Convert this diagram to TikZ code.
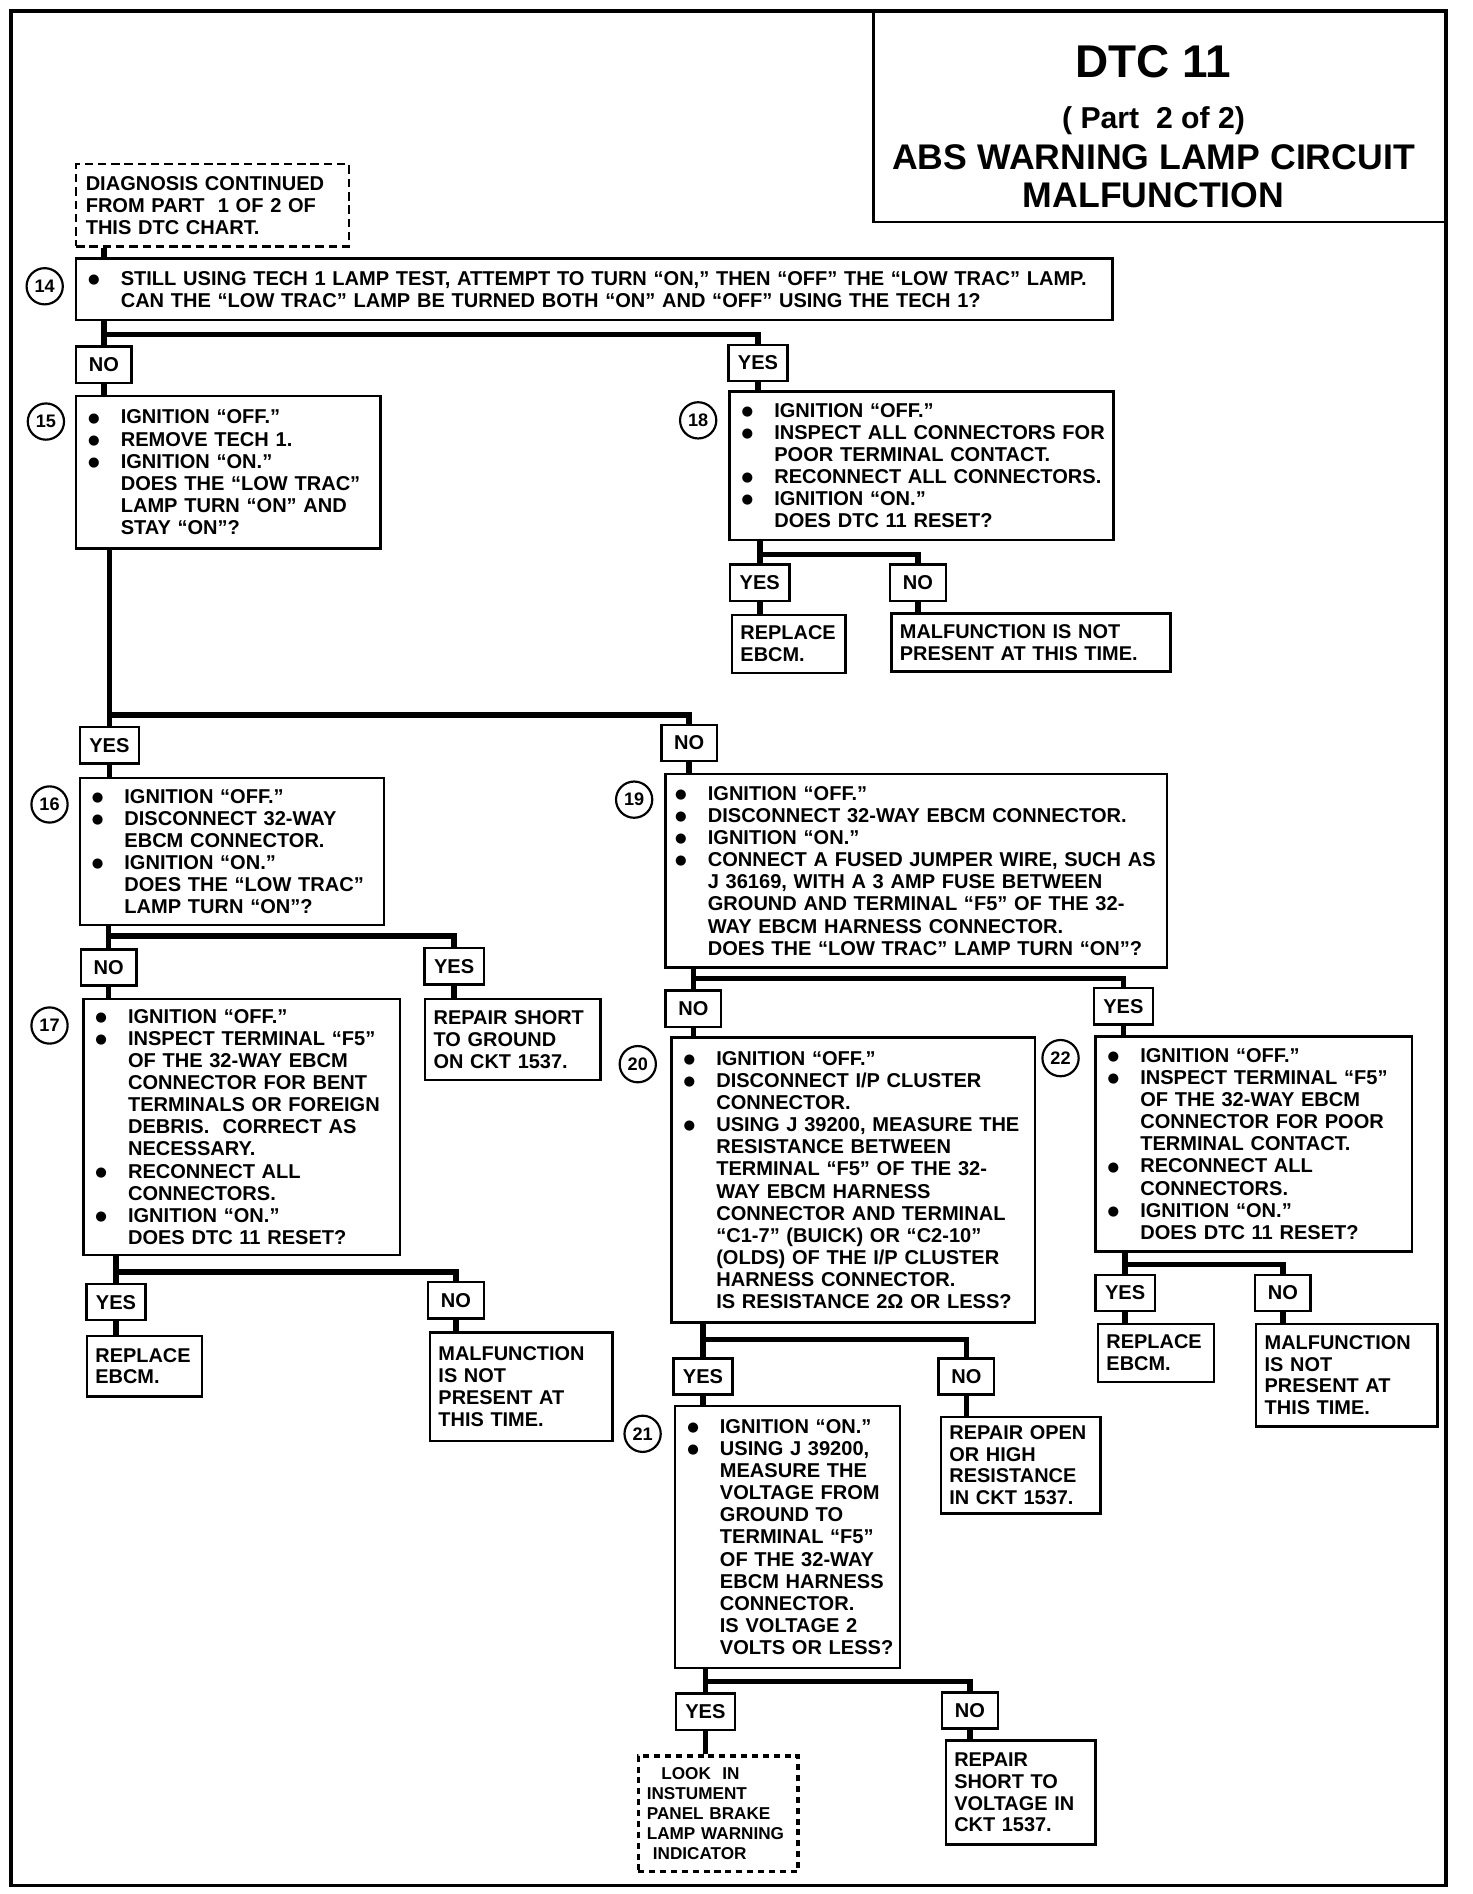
\documentclass[tikz,border=0pt]{standalone}
\usepackage{fontspec}
\setmainfont{Liberation Sans}
\newfontfamily\dotfont{DejaVu Sans}
\usetikzlibrary{calc}
\newcommand\bl[1]{\mbox{\makebox[28pt][l]{\hspace*{1pt}\raisebox{1.5pt}{\dotfont\fontsize{11}{11}\selectfont ●}}#1}}
\newcommand\cn[1]{\mbox{\hspace*{28pt}#1}}

\begin{document}
\begin{tikzpicture}[x=1pt,y=-1pt,font=\bfseries\fontsize{16.6}{18.3}\selectfont,
 stepbox/.style={draw,line width=2pt,anchor=north west,align=left,inner xsep=9pt,inner ysep=0pt},
 endbox/.style={stepbox,inner xsep=7pt,font=\bfseries\fontsize{16.5}{18}\selectfont},
 tag/.style={draw,line width=2pt,minimum height=30pt,minimum width=46pt,inner sep=0pt,fill=white},
 yestag/.style={tag,minimum width=49pt},
 num/.style={circle,draw,line width=1.8pt,minimum size=30pt,inner sep=0pt,font=\bfseries\fontsize{15}{15}\selectfont},
 link/.style={line width=4.5pt},
 headline/.style={anchor=base,font=\bfseries\fontsize{29.5}{30}\selectfont}]
\useasboundingbox (0,0) rectangle (1219,1568);
\draw[line width=3pt] (9,9) rectangle (1197,1561);

% title block in the upper right corner
\node[draw,line width=2pt,anchor=north west,minimum width=475pt,minimum height=174pt] (titlebox) at (722,9) {};
\node[anchor=base,font=\bfseries\fontsize{38}{38}\selectfont] (dtc) at (955,64) {DTC 11};
\node[anchor=base,font=\bfseries\fontsize{25}{25}\selectfont] (part) at (955,106) {( Part\ \ 2 of 2)};
\node[headline] (abs) at (955,140) {ABS WARNING LAMP CIRCUIT};
\node[headline] (malf) at (955,172) {MALFUNCTION};

\node[stepbox,inner xsep=8pt,dash pattern=on 7pt off 4pt,text width=210pt,minimum height=68pt] (start) at (62,135)
 {DIAGNOSIS CONTINUED\\FROM PART\ \ 1 OF 2 OF\\THIS DTC CHART.};

\node[stepbox,text width=840pt,minimum height=51pt] (b14) at (62,213)
 {\bl{STILL USING TECH 1 LAMP TEST, ATTEMPT TO TURN “ON,” THEN “OFF” THE “LOW TRAC” LAMP.}\\
  \cn{CAN THE “LOW TRAC” LAMP BE TURNED BOTH “ON” AND “OFF” USING THE TECH 1?}};
\node[stepbox,text width=234pt,minimum height=126pt] (b15) at (62,327)
 {\bl{IGNITION “OFF.”}\\\bl{REMOVE TECH 1.}\\\bl{IGNITION “ON.”}\\\cn{DOES THE “LOW TRAC”}\\\cn{LAMP TURN “ON” AND}\\\cn{STAY “ON”?}};
\node[stepbox,text width=300pt,minimum height=123pt] (b18) at (603,323)
 {\bl{IGNITION “OFF.”}\\\bl{INSPECT ALL CONNECTORS FOR}\\\cn{POOR TERMINAL CONTACT.}\\\bl{RECONNECT ALL CONNECTORS.}\\\bl{IGNITION “ON.”}\\\cn{DOES DTC 11 RESET?}};
\node[stepbox,text width=234pt,minimum height=122pt] (b16) at (65,643)
 {\bl{IGNITION “OFF.”}\\\bl{DISCONNECT 32-WAY}\\\cn{EBCM CONNECTOR.}\\\bl{IGNITION “ON.”}\\\cn{DOES THE “LOW TRAC”}\\\cn{LAMP TURN “ON”?}};
\node[stepbox,inner xsep=7pt,text width=401pt,minimum height=160pt] (b19) at (550,640)
 {\bl{IGNITION “OFF.”}\\\bl{DISCONNECT 32-WAY EBCM CONNECTOR.}\\\bl{IGNITION “ON.”}\\\bl{CONNECT A FUSED JUMPER WIRE, SUCH AS}\\
  \cn{J 36169, WITH A 3 AMP FUSE BETWEEN}\\\cn{GROUND AND TERMINAL “F5” OF THE 32-}\\\cn{WAY EBCM HARNESS CONNECTOR.}\\\cn{DOES THE “LOW TRAC” LAMP TURN “ON”?}};
\node[stepbox,text width=244pt,minimum height=212pt] (b17) at (68,826)
 {\bl{IGNITION “OFF.”}\\\bl{INSPECT TERMINAL “F5”}\\\cn{OF THE 32-WAY EBCM}\\\cn{CONNECTOR FOR BENT}\\\cn{TERMINALS OR FOREIGN}\\
  \cn{DEBRIS.\ \ CORRECT AS}\\\cn{NECESSARY.}\\\bl{RECONNECT ALL}\\\cn{CONNECTORS.}\\\bl{IGNITION “ON.”}\\\cn{DOES DTC 11 RESET?}};
\node[stepbox,text width=283pt,minimum height=236pt] (b20) at (555,858)
 {\bl{IGNITION “OFF.”}\\\bl{DISCONNECT I/P CLUSTER}\\\cn{CONNECTOR.}\\\bl{USING J 39200, MEASURE THE}\\\cn{RESISTANCE BETWEEN}\\
  \cn{TERMINAL “F5” OF THE 32-}\\\cn{WAY EBCM HARNESS}\\\cn{CONNECTOR AND TERMINAL}\\\cn{“C1-7” (BUICK) OR “C2-10”}\\
  \cn{(OLDS) OF THE I/P CLUSTER}\\\cn{HARNESS CONNECTOR.}\\\cn{IS RESISTANCE 2Ω OR LESS?}};
\node[stepbox,text width=244pt,minimum height=178pt] (b22) at (906,857)
 {\bl{IGNITION “OFF.”}\\\bl{INSPECT TERMINAL “F5”}\\\cn{OF THE 32-WAY EBCM}\\\cn{CONNECTOR FOR POOR}\\\cn{TERMINAL CONTACT.}\\
  \bl{RECONNECT ALL}\\\cn{CONNECTORS.}\\\bl{IGNITION “ON.”}\\\cn{DOES DTC 11 RESET?}};
\node[stepbox,text width=168pt,minimum height=217pt] (b21) at (558,1163)
 {\bl{IGNITION “ON.”}\\\bl{USING J 39200,}\\\cn{MEASURE THE}\\\cn{VOLTAGE FROM}\\\cn{GROUND TO}\\\cn{TERMINAL “F5”}\\
  \cn{OF THE 32-WAY}\\\cn{EBCM HARNESS}\\\cn{CONNECTOR.}\\\cn{IS VOLTAGE 2}\\\cn{VOLTS OR LESS?}};

% step numbers beside the boxes
\foreach \n/\x/\y in {14/37/237,15/38/349,18/578/348,16/41/666,19/525/662,17/41/849,20/528/881,22/878/876,21/532/1187}
 \node[num] (c\n) at (\x,\y) {\n};

% final actions
\node[endbox,text width=80pt,minimum height=48pt] (r18y) at (605,508) {REPLACE\\EBCM.};
\node[endbox,text width=217pt,minimum height=48pt] (r18n) at (737,507) {MALFUNCTION IS NOT\\PRESENT AT THIS TIME.};
\node[endbox,text width=131pt,minimum height=67pt] (r16y) at (351,826) {REPAIR SHORT\\TO GROUND\\ON CKT 1537.};
\node[endbox,text width=81pt,minimum height=50pt] (r17y) at (71,1105) {REPLACE\\EBCM.};
\node[endbox,text width=137pt,minimum height=90pt] (r17n) at (355,1102) {MALFUNCTION\\IS NOT\\PRESENT AT\\THIS TIME.};
\node[endbox,text width=118pt,minimum height=80pt] (r20n) at (778,1172) {REPAIR OPEN\\OR HIGH\\RESISTANCE\\IN CKT 1537.};
\node[endbox,text width=82pt,minimum height=48pt] (r22y) at (908,1095) {REPLACE\\EBCM.};
\node[endbox,text width=136pt,minimum height=85pt] (r22n) at (1039,1095) {MALFUNCTION\\IS NOT\\PRESENT AT\\THIS TIME.};
\node[endbox,text width=110pt,minimum height=86pt] (r21n) at (782,1440) {REPAIR\\SHORT TO\\VOLTAGE IN\\CKT 1537.};
\node[stepbox,line width=3pt,dash pattern=on 5pt off 4pt,inner xsep=7pt,text width=118pt,minimum height=96pt,
 font=\bfseries\fontsize{14.2}{16.7}\selectfont] (look) at (527,1452)
 {\hspace*{12pt}LOOK\ \ IN\\INSTUMENT\\PANEL BRAKE\\LAMP WARNING\\\hspace*{5pt}INDICATOR};

% answer tags
\node[tag] (no14) at (86,302) {NO};
\node[yestag] (yes14) at (627.5,300.5) {YES};
\node[yestag] (yes18) at (629,482.5) {YES};
\node[tag] (no18) at (760,482.5) {NO};
\node[yestag] (yes15) at (90.5,617) {YES};
\node[tag] (no15) at (570.5,615) {NO};
\node[tag] (no16) at (90,801) {NO};
\node[yestag] (yes16) at (376,800) {YES};
\node[tag] (no19) at (574,835) {NO};
\node[yestag] (yes19) at (930,833) {YES};
\node[yestag] (yes17) at (96,1078) {YES};
\node[tag] (no17) at (377.5,1076.5) {NO};
\node[yestag] (yes20) at (582,1139.5) {YES};
\node[tag] (no20) at (800,1139.5) {NO};
\node[yestag] (yes22) at (931.5,1070.5) {YES};
\node[tag] (no22) at (1062,1070.5) {NO};
\node[yestag] (yes21) at (584,1417) {YES};
\node[tag] (no21) at (803,1416) {NO};

% branch from each question box to its two tags
\draw[link] (start.south -| no14.north) -- (b14.north -| no14.north);
\foreach \q/\l/\r/\d in {b14/no14/yes14/11,b18/yes18/no18/11,b15/yes15/no15/137,b16/no16/yes16/8,b19/no19/yes19/8,
 b17/yes17/no17/13,b20/yes20/no20/13,b22/yes22/no22/10,b21/yes21/no21/10} {
 \draw[link] (\q.south -| \l.north) -- (\l.north);
 \draw[link] ($(\q.south -| \l.north)+(0,\d)$) -| (\r.north);
}
\foreach \l/\n in {no14/b15,yes14/b18,yes18/r18y,no18/r18n,yes15/b16,no15/b19,no16/b17,yes16/r16y,no19/b20,yes19/b22,
 yes17/r17y,no17/r17n,yes20/b21,no20/r20n,yes22/r22y,no22/r22n,yes21/look,no21/r21n}
 \draw[link] (\l.south) -- (\l.south |- \n.north);
\end{tikzpicture}
\end{document}
